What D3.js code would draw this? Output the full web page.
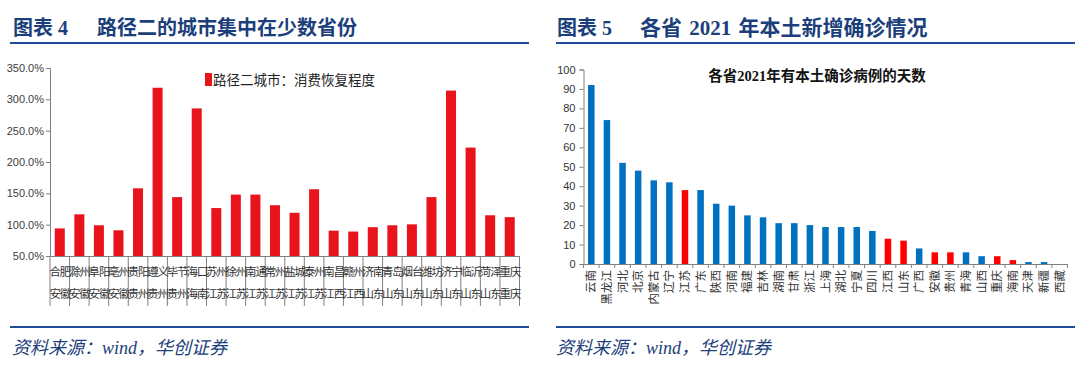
<!DOCTYPE html>
<html><head><meta charset="utf-8">
<script src="https://cdn.jsdelivr.net/npm/d3@7"></script>
<style>
body{margin:0;background:#fff;}
svg{display:block;}
</style></head><body>
<svg id="c" width="1080" height="382"></svg>
<script>
// ---- Left chart data ----
const leftCities = ["合肥","滁州","阜阳","亳州","贵阳","遵义","毕节","海口","苏州","徐州","南通","常州","盐城","泰州","南昌","赣州","济南","青岛","烟台","潍坊","济宁","临沂","菏泽","重庆"];
const leftProvinces = ["安徽","安徽","安徽","安徽","贵州","贵州","贵州","海南","江苏","江苏","江苏","江苏","江苏","江苏","江西","江西","山东","山东","山东","山东","山东","山东","山东","重庆"];
const leftValues = [0.94,1.165,0.99,0.91,1.58,3.185,1.44,2.855,1.265,1.48,1.48,1.31,1.19,1.565,0.905,0.89,0.96,0.99,1.005,1.44,3.14,2.23,1.15,1.12];
const leftTicks = [0.5,1.0,1.5,2.0,2.5,3.0,3.5];
const leftLegend = "路径二城市：消费恢复程度";

// ---- Right chart data ----
const rightProvinces = ["云南","黑龙江","河北","北京","内蒙古","辽宁","江苏","广东","陕西","河南","福建","吉林","湖南","甘肃","浙江","上海","湖北","宁夏","四川","江西","山东","广西","安徽","贵州","青海","山西","重庆","海南","天津","新疆","西藏"];
const rightValues = [92,74,52,48,43,42,38,38,31,30,25,24,21,21,20,19,19,19,17,13,12,8,6,6,6,4,4,2,1,1,0];
const rightHighlight = ["江苏","江西","山东","安徽","贵州","重庆","海南"];
const rightTicks = [0,10,20,30,40,50,60,70,80,90,100];
const rightTitle = "各省2021年有本土确诊病例的天数";

const figLabels = ["图表 4","图表 5"];
const titles = ["路径二的城市集中在少数省份","各省 2021 年本土新增确诊情况"];
const sourceText = "资料来源：wind，华创证券";

const svg = d3.select("#c");
const blue = "#1f4e96";
const navy = "#1c3f7c";
const narrow = "'Liberation Sans Narrow','Liberation Sans',Arial,sans-serif";
const cjk = "'Noto Sans CJK SC','Noto Sans',sans-serif";
const serifCjk = "'Liberation Serif','Noto Sans CJK SC',serif";

// headers & footers: [lineStart, lineEnd, labelX, titleX, wordSpacing, titleSize]
[[10,529,13,97,0,20],[556,1075,557,640,2,21]].forEach((p,i)=>{
  svg.append("text").attr("x",p[2]).attr("y",35).text(figLabels[i])
    .attr("font-family",serifCjk).attr("font-weight","bold")
    .attr("font-size",20).attr("fill",navy);
  svg.append("text").attr("x",p[3]).attr("y",35).text(titles[i])
    .attr("font-family",serifCjk).attr("font-weight","bold").attr("word-spacing",p[4])
    .attr("font-size",p[5]).attr("fill",navy);
  svg.append("line").attr("x1",p[0]).attr("x2",p[1]).attr("y1",43).attr("y2",43).attr("stroke",blue).attr("stroke-width",2);
  svg.append("line").attr("x1",p[0]).attr("x2",p[1]).attr("y1",327).attr("y2",327).attr("stroke",blue).attr("stroke-width",2);
  svg.append("text").attr("x",p[2]-1).attr("y",354).text(sourceText)
    .attr("font-family",serifCjk).attr("font-style","italic")
    .attr("font-size",18).attr("fill",navy);
});

// ---- Left chart ----
{
  const x = d3.scaleBand().domain(leftCities).range([50,519.5]).paddingInner(0).paddingOuter(0);
  const y = d3.scaleLinear().domain([0.5,3.5]).range([256,68]);
  const g = svg.append("g");
  const ya = d3.axisLeft(y).tickValues(leftTicks).tickFormat(d3.format(".1%")).tickSize(4).tickPadding(2);
  const yg = g.append("g").attr("transform","translate(50,0)").call(ya);
  yg.select(".domain").attr("stroke","#808080");
  yg.selectAll(".tick line").attr("stroke","#808080");
  yg.selectAll("text").attr("font-family",narrow).attr("font-size",11).attr("fill","#404040");
  g.selectAll("rect.bar").data(leftValues).join("rect")
    .attr("x",(d,i)=>x(leftCities[i])+x.bandwidth()/2-5).attr("width",10)
    .attr("y",d=>y(d)).attr("height",d=>y(0.5)-y(d)).attr("fill","#e8131b");
  g.append("line").attr("x1",50).attr("x2",519.5).attr("y1",256.5).attr("y2",256.5).attr("stroke","#808080");
  const bounds = leftCities.map(c=>x(c)).concat([x.range()[1]]);
  g.selectAll("line.cell").data(bounds).join("line")
    .attr("x1",d=>d).attr("x2",d=>d).attr("y1",256).attr("y2",306).attr("stroke","#808080");
  g.selectAll("text.city").data(leftCities).join("text")
    .attr("x",d=>x(d)+x.bandwidth()/2).attr("y",276).attr("text-anchor","middle")
    .attr("font-family",cjk).attr("font-size",11.5).attr("fill","#333").attr("letter-spacing",-1.2).text(d=>d);
  g.selectAll("text.prov").data(leftProvinces).join("text")
    .attr("x",(d,i)=>x(leftCities[i])+x.bandwidth()/2).attr("y",298).attr("text-anchor","middle")
    .attr("font-family",cjk).attr("font-size",11.5).attr("fill","#333").attr("letter-spacing",-1.2).text(d=>d);
  g.append("rect").attr("x",205).attr("y",73).attr("width",7).attr("height",13).attr("fill","#e8131b");
  g.append("text").attr("x",213).attr("y",85).text(leftLegend)
    .attr("font-family",cjk).attr("font-size",13.5).attr("fill","#222");
}

// ---- Right chart ----
{
  const x = d3.scaleBand().domain(rightProvinces).range([583.5,1067.5]);
  const y = d3.scaleLinear().domain([0,100]).range([264,69.5]);
  const g = svg.append("g");
  const ya = d3.axisLeft(y).tickValues(rightTicks).tickSize(4).tickPadding(4);
  const yg = g.append("g").attr("transform","translate(583.5,0)").call(ya);
  yg.select(".domain").attr("stroke","#808080");
  yg.selectAll(".tick line").attr("stroke","#808080");
  yg.selectAll("text").attr("font-family",narrow).attr("font-size",11).attr("fill","#333");
  g.selectAll("rect.bar").data(rightValues).join("rect")
    .attr("x",(d,i)=>x(rightProvinces[i])+x.bandwidth()/2-3.25).attr("width",6.5)
    .attr("y",d=>y(d)).attr("height",d=>y(0)-y(d))
    .attr("fill",(d,i)=>rightHighlight.includes(rightProvinces[i])?"#ff0000":"#0070c0");
  g.append("line").attr("x1",583.5).attr("x2",1067.5).attr("y1",264.5).attr("y2",264.5).attr("stroke","#808080");
  const bounds = rightProvinces.map(c=>x(c)).concat([x.range()[1]]);
  g.selectAll("line.tk").data(bounds).join("line")
    .attr("x1",d=>d).attr("x2",d=>d).attr("y1",264).attr("y2",268).attr("stroke","#808080");
  g.selectAll("text.prov").data(rightProvinces).join("text")
    .attr("transform",d=>`translate(${x(d)+x.bandwidth()/2+4},270) rotate(-90)`)
    .attr("text-anchor","end").attr("font-family",cjk).attr("font-size",11.5).attr("fill","#333").text(d=>d);
  g.append("text").attr("x",817).attr("y",81).attr("text-anchor","middle").text(rightTitle)
    .attr("font-family",serifCjk).attr("font-weight","bold")
    .attr("font-size",14.5).attr("fill","#111");
}
</script>
</body></html>
